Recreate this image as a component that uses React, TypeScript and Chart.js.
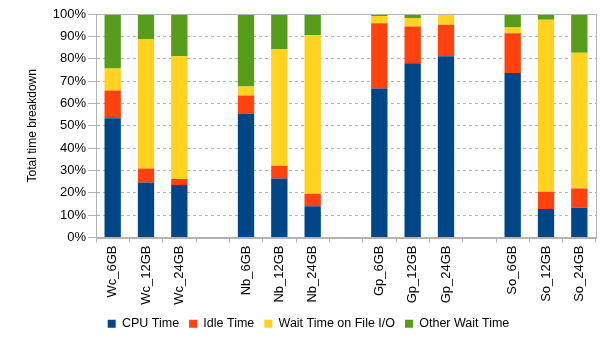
import React, { useEffect, useRef } from "react";
import { Chart, registerables } from "chart.js";

Chart.register(...registerables);

const categories = [
  "Wc_6GB", "Wc_12GB", "Wc_24GB", "",
  "Nb_6GB", "Nb_12GB", "Nb_24GB", "",
  "Gp_6GB", "Gp_12GB", "Gp_24GB", "",
  "So_6GB", "So_12GB", "So_24GB",
];
const cpuTime = [53.3, 24.6, 23.5, null, 55.5, 26.4, 14.0, null, 66.7, 78.0, 81.1, null, 73.6, 12.8, 13.3];
const idleTime = [12.5, 6.3, 2.7, null, 8.0, 5.7, 5.6, null, 29.2, 16.4, 14.1, null, 17.8, 7.7, 8.6];
const ioWait = [9.8, 57.9, 54.9, null, 4.1, 52.2, 70.9, null, 3.2, 3.8, 4.2, null, 2.6, 76.9, 60.8];
const otherWait = [24.4, 11.2, 18.9, null, 32.4, 15.7, 9.5, null, 0.9, 1.8, 0.6, null, 6.0, 2.6, 17.3];
const yTicks = [0, 10, 20, 30, 40, 50, 60, 70, 80, 90, 100];

const FONT = "'Liberation Sans', Arial, sans-serif";
const GRID = "#b3b3b3";

const framePlugin = {
  id: "frame",
  afterDraw(chart: any) {
    const { ctx, chartArea } = chart;
    ctx.save();
    ctx.strokeStyle = GRID;
    ctx.lineWidth = 1;
    ctx.setLineDash([]);
    ctx.strokeRect(
      Math.round(chartArea.left) + 0.5,
      Math.round(chartArea.top) + 0.5,
      Math.round(chartArea.right - chartArea.left),
      Math.round(chartArea.bottom - chartArea.top)
    );
    ctx.restore();
  },
};

export default function App() {
  const ref = useRef<HTMLCanvasElement>(null);
  useEffect(() => {
    if (!ref.current) return;
    const mk = (label: string, data: any[], color: string) => ({
      label,
      data,
      backgroundColor: color,
      borderWidth: 0,
      categoryPercentage: 1,
      barPercentage: 0.49,
    });
    const chart = new Chart(ref.current, {
      type: "bar",
      data: {
        labels: categories,
        datasets: [
          mk("CPU Time", cpuTime, "#004586"),
          mk("Idle Time", idleTime, "#ff420e"),
          mk("Wait Time on File I/O", ioWait, "#ffd320"),
          mk("Other Wait Time", otherWait, "#579d1c"),
        ],
      },
      options: {
        animation: false,
        responsive: false,
        devicePixelRatio: 1,
        layout: { padding: { top: 14, right: 8, left: 21, bottom: 0 } },
        plugins: {
          tooltip: { enabled: false },
          legend: {
            position: "bottom",
            labels: {
              boxWidth: 8,
              boxHeight: 8,
              padding: 10,
              color: "#000",
              font: { family: FONT, size: 12.5 },
            },
          },
        },
        scales: {
          x: {
            stacked: true,
            grid: {
              display: true,
              drawOnChartArea: false,
              offset: true,
              tickLength: 5,
              color: GRID,
            },
            border: { color: GRID },
            ticks: {
              autoSkip: false,
              maxRotation: 90,
              minRotation: 90,
              padding: 3,
              color: "#000",
              font: { family: FONT, size: 13 },
            },
            afterFit: (s: any) => {
              s.height = 70;
            },
          },
          y: {
            stacked: true,
            min: 0,
            max: 100,
            afterBuildTicks: (s: any) => {
              s.ticks = yTicks.map((v) => ({ value: v }));
            },
            grid: {
              color: GRID,
              tickLength: 8,
              tickBorderDash: [],
            },
            border: { color: GRID, dash: [3, 3] },
            ticks: {
              padding: 2,
              color: "#000",
              font: { family: FONT, size: 13 },
              callback: (v: any) => v + "%",
            },
            title: {
              display: true,
              text: "Total time breakdown",
              color: "#000",
              font: { family: FONT, size: 12 },
              padding: { top: 4, bottom: 4 },
            },
            afterFit: (s: any) => {
              s.width = 75;
            },
          },
        },
      },
      plugins: [framePlugin],
    } as any);
    return () => chart.destroy();
  }, []);
  return (
    <div style={{ position: "absolute", left: 0, top: 0, width: 604, height: 340, background: "#fff" }}>
      <canvas ref={ref} width={604} height={340} style={{ width: 604, height: 340, display: "block" }} />
    </div>
  );
}
